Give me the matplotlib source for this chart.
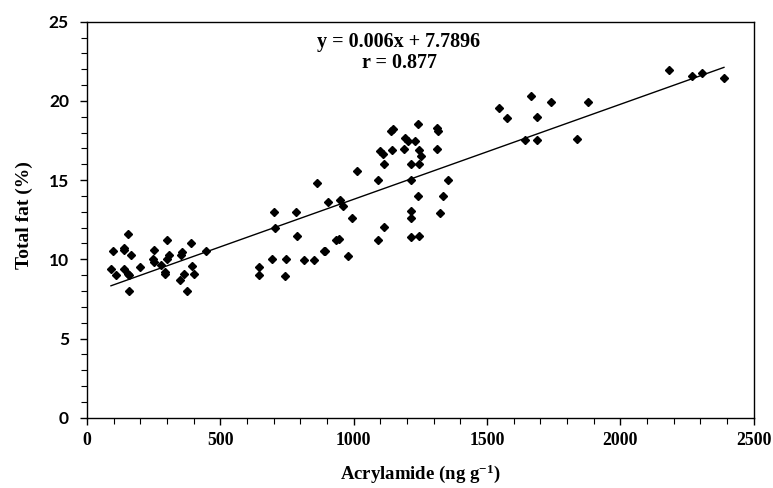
import matplotlib
matplotlib.use("Agg")
import matplotlib.pyplot as plt
from matplotlib.ticker import MultipleLocator
import numpy as np

plt.rcParams["mathtext.fontset"] = "custom"
plt.rcParams["mathtext.rm"] = "Liberation Serif:bold"
plt.rcParams["mathtext.bf"] = "Liberation Serif:bold"
plt.rcParams["mathtext.it"] = "Liberation Serif:bold"

acrylamide = [
    90, 98, 107, 137, 140, 137, 152, 154, 158, 157, 164, 198, 250, 247, 250, 276,
    301, 308, 301, 293, 294, 354, 357, 391, 392, 400, 364, 350, 374, 448,
    645, 645, 692, 703, 704, 742, 747, 782, 787, 812, 852, 863, 888, 892, 902,
    934, 944, 947, 959, 977, 993, 1013,
    1090, 1090, 1097, 1111, 1114, 1114, 1141, 1146, 1143, 1189, 1192, 1204, 1213,
    1213, 1213, 1213, 1213, 1229, 1242, 1243, 1246, 1242, 1246, 1253, 1312, 1314,
    1316, 1323, 1335, 1354,
    1543, 1575, 1644, 1663, 1687, 1687, 1738, 1837, 1880, 2181, 2270, 2305, 2388,
]
total_fat = [
    9.38, 10.5, 9.02, 10.7, 10.6, 9.4, 11.63, 9.09, 9.0, 8.0, 10.3, 9.53, 10.62, 9.99, 9.8, 9.65,
    11.2, 10.26, 10.05, 9.2, 9.05, 10.3, 10.47, 11.0, 9.55, 9.05, 9.05, 8.69, 8.01, 10.5,
    9.53, 9.0, 10.01, 12.98, 11.99, 8.92, 10.01, 12.98, 11.5, 9.93, 9.93, 14.79, 10.54, 10.5, 13.59,
    11.21, 11.3, 13.74, 13.38, 10.2, 12.6, 15.56,
    11.21, 14.98, 16.81, 16.64, 15.99, 12.01, 18.1, 18.2, 16.87, 16.97, 17.63, 17.44, 15.99,
    14.98, 13.04, 12.58, 11.4, 17.46, 18.57, 16.93, 15.99, 13.99, 11.5, 16.51, 16.97, 18.26,
    18.13, 12.9, 13.99, 14.98,
    19.56, 18.95, 17.56, 20.32, 17.56, 18.97, 19.94, 17.6, 19.94, 21.94, 21.56, 21.75, 21.47,
]
slope = 0.006
intercept = 7.7896
r_value = 0.877

fig = plt.figure(figsize=(7.73, 4.88), dpi=100)
ax = fig.add_axes([0.1125, 0.144, 0.8627, 0.8115])

ax.plot(acrylamide, total_fat, linestyle="none", marker="D", markersize=4.5,
        color="black", zorder=3)
xl = np.array([min(acrylamide), max(acrylamide)])
ax.plot(xl, slope * xl + intercept, color="black", lw=1.0, zorder=2)

ax.set_xlim(0, 2500)
ax.set_ylim(0, 25)
ax.xaxis.set_major_locator(MultipleLocator(500))
ax.xaxis.set_minor_locator(MultipleLocator(100))
ax.yaxis.set_major_locator(MultipleLocator(5))
ax.yaxis.set_minor_locator(MultipleLocator(1))
ax.tick_params(axis="both", which="major", direction="out", length=5, width=1, color="black")
ax.tick_params(axis="both", which="minor", direction="out", length=4, width=0.8, color="black")
ax.tick_params(axis="y", pad=8)
ax.tick_params(axis="x", pad=5)

for lab in ax.get_yticklabels():
    lab.set_fontfamily("Lato")
    lab.set_fontweight("bold")
    lab.set_fontsize(12.5)
for lab in ax.get_xticklabels():
    lab.set_fontfamily("Liberation Serif")
    lab.set_fontweight("bold")
    lab.set_fontsize(12.8)

for s in ax.spines.values():
    s.set_color("black")
    s.set_linewidth(1.0)

fig.text(0.1125 + 0.8627 / 2, (488 - 479) / 488, "Acrylamide (ng g$^{-1}$)",
         ha="center", va="baseline", fontfamily="Liberation Serif",
         fontweight="bold", fontsize=13.5)
fig.text(24 / 773, 1 - 215 / 488, "Total fat (%)", rotation=90,
         ha="center", va="center", fontfamily="Liberation Serif",
         fontweight="bold", fontsize=14)

ax.text(1170, 23.75, f"y = {slope}x + {intercept}", ha="center", va="center",
        fontfamily="Liberation Serif", fontweight="bold", fontsize=14.5)
ax.text(1170, 22.37, f"r = {r_value}", ha="center", va="center",
        fontfamily="Liberation Serif", fontweight="bold", fontsize=14.5)

fig.savefig("out.png", dpi=100)
